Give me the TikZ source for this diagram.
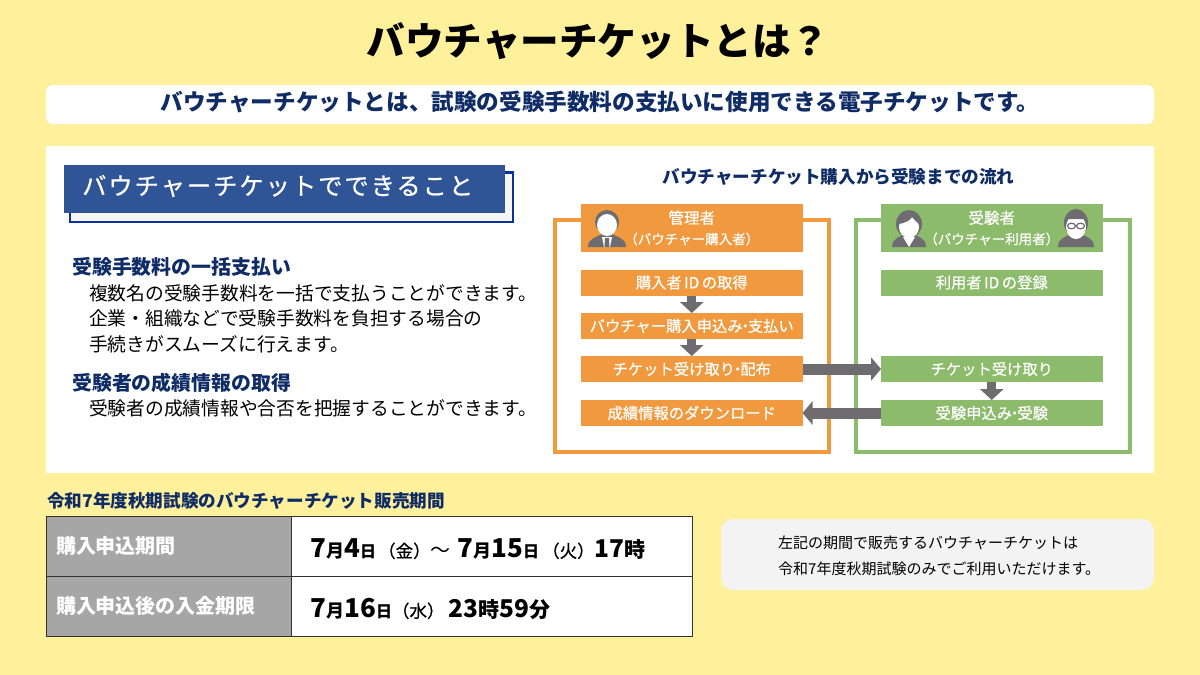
\documentclass[tikz,border=0pt]{standalone}
\usepackage{fontspec}
\setmainfont{Noto Sans CJK JP}
\newfontfamily\medfont[FakeBold=0.7]{Noto Sans CJK JP}
\usetikzlibrary{arrows.meta}

\definecolor{pagebg}{HTML}{FFF09B}
\definecolor{navytxt}{HTML}{0F2C66}
\definecolor{headblue}{HTML}{2F5597}
\definecolor{lineblue}{HTML}{0A319C}
\definecolor{adminor}{HTML}{F0993F}
\definecolor{usergr}{HTML}{8CBB6B}
\definecolor{arrowgr}{HTML}{6E6C70}
\definecolor{cellgr}{HTML}{A6A6A6}
\definecolor{notegr}{HTML}{F3F3F3}

\newcommand{\fsz}[1]{\fontsize{#1}{#1}\selectfont}
\newcommand{\dnum}[1]{{\fsz{26}\bfseries #1}}
\newcommand{\dsub}[1]{{\fsz{24.5}\bfseries #1}}
\newcommand{\dkan}[1]{{\fsz{21}\bfseries #1}}
\newcommand{\dmon}{{\fsz{18}\bfseries 月}}
\newcommand{\dday}{{\fsz{16}\bfseries 日}}
\newcommand{\dwk}[1]{{\fsz{17.5}\medfont （#1）}}
\newcommand{\tdot}{\kern-5pt・\kern-5pt}

\newcommand{\manicon}[1]{%
    \begin{scope}[shift={(#1)}]
        \fill[arrowgr] (-19,19) .. controls (-19,10) and (-10,9) .. (-5,6) -- (5,6) .. controls (10,9) and (19,10) .. (19,19) -- cycle;
        \fill[arrowgr] (0,-6) ellipse [x radius=12, y radius=12];
        \fill[white] (0,-3) ellipse [x radius=10, y radius=11];
        \fill[white] (-5,9) -- (5,9) -- (3,19) -- (-3,19) -- cycle;
        \fill[arrowgr] (-2,10) -- (2,10) -- (2.5,19) -- (-2.5,19) -- cycle;
    \end{scope}}
\newcommand{\womanicon}[1]{%
    \begin{scope}[shift={(#1)}]
        \fill[arrowgr] (-17,19) .. controls (-17,10) and (-9,9) .. (-5,6) -- (5,6) .. controls (9,9) and (17,10) .. (17,19) -- cycle;
        \fill[arrowgr] (0,-4) ellipse [x radius=13, y radius=14];
        \fill[white] (0,-1) ellipse [x radius=10, y radius=11];
        \fill[arrowgr] (-10,-4) .. controls (-4,-5) and (2,-8) .. (3,-11) .. controls (5,-8) and (8,-6) .. (10,-4) -- (10,-12) -- (-10,-12) -- cycle;
        \fill[white] (-6,9) -- (6,9) -- (0,19) -- cycle;
    \end{scope}}
\newcommand{\glassicon}[1]{%
    \begin{scope}[shift={(#1)}]
        \fill[arrowgr] (-18,19) .. controls (-18,10) and (-10,9) .. (-5,6) -- (5,6) .. controls (10,9) and (18,10) .. (18,19) -- cycle;
        \fill[arrowgr] (0,-5) ellipse [x radius=12, y radius=14];
        \fill[white] (0,-1) ellipse [x radius=10, y radius=12];
        \fill[arrowgr] (-10,-4) -- (-8,-9) -- (8,-9) -- (10,-4) -- (10,-13) -- (-10,-13) -- cycle;
        \draw[arrowgr, line width=1.2pt] (-4.5,-2) ellipse [x radius=4, y radius=2.8] (4.5,-2) ellipse [x radius=4, y radius=2.8];
    \end{scope}}

\tikzset{
    stepbox/.style={rectangle, inner sep=0pt, outer sep=0pt, minimum width=221.5pt, minimum height=26pt, text=white, font=\fsz{15.3}\medfont},
    adminstep/.style={stepbox, fill=adminor},
    userstep/.style={stepbox, fill=usergr},
    headbox/.style={stepbox, minimum height=48pt},
    bodytxt/.style={anchor=west, inner sep=0pt, font=\fsz{18.75}},
    subhead/.style={anchor=west, inner sep=0pt, text=navytxt, font=\fsz{19.9}\bfseries},
    blockarrow/.style={draw=arrowgr, line width=9pt, -{Triangle[length=11pt, width=23pt]}},
    sidearrow/.style={draw=arrowgr, line width=11pt, -{Triangle[length=10pt, width=23pt]}},
    tablecell/.style={rectangle, draw=black!80, line width=1pt, inner sep=0pt, outer sep=0pt, minimum height=60pt},
    labelcell/.style={tablecell, fill=cellgr, minimum width=245pt, text=white, font=\fsz{20}\bfseries, anchor=north west, text width=225pt, align=left},
    datecell/.style={tablecell, fill=white, minimum width=401pt, anchor=north west, text width=362pt, align=left}
}

\begin{document}
\begin{tikzpicture}[x=1pt, y=-1pt]

    \useasboundingbox (0,0) rectangle (1200,675);
    \fill[pagebg] (0,0) rectangle (1200,675);

    % Title
    \node[inner sep=0pt, font=\fsz{38.6}\bfseries] (title) at (598,41) {バウチャーチケットとは？};
    \node[fill=white, rounded corners=7pt, minimum width=1108pt, minimum height=39pt, inner sep=0pt] (banner) at (600,104.5) {};
    \node[inner sep=0pt, text=navytxt, font=\fsz{22.6}\bfseries] (bannertxt) at (600,102.5) {バウチャーチケットとは、試験の受験手数料の支払いに使用できる電子チケットです。};

    % White panel
    \fill[white] (46,146) rectangle (1154,473);

    % Left heading
    \fill[black!4] (70,172) rectangle (513,222);
    \draw[lineblue, line width=2.5pt] (505,172.5) -- (513,172.5) -- (513,222) -- (70,222) -- (70,213);
    \node[fill=headblue, minimum width=441pt, minimum height=48pt, inner sep=0pt] (canhead) at (284.5,189) {};
    \node[anchor=west, inner sep=0pt, text=white, font=\fsz{24.3}\medfont\addfontfeature{LetterSpace=8}] (cantxt) at (82,186) {バウチャーチケットでできること};

    % Left text
    \node[subhead] (pay) at (72,267) {受験手数料の一括支払い};
    \node[bodytxt] (pay1) at (89,293) {複数名の受験手数料を一括で支払うことができます。};
    \node[bodytxt] (pay2) at (89,318) {企業・組織などで受験手数料を負担する場合の};
    \node[bodytxt] (pay3) at (89,344) {手続きがスムーズに行えます。};
    \node[subhead] (score) at (72,383) {受験者の成績情報の取得};
    \node[bodytxt] (score1) at (89,408) {受験者の成績情報や合否を把握することができます。};

    % Flow
    \node[inner sep=0pt, text=navytxt, font=\fsz{17.6}\bfseries] (flowtitle) at (838.5,177) {バウチャーチケット購入から受験までの流れ};
    \draw[adminor, line width=4pt] (555,220) rectangle (829,452);
    \draw[usergr, line width=4pt] (856,220) rectangle (1130,452);

    % Administrator
    \node[headbox, fill=adminor, font=\fsz{15.5}\medfont, align=center] (admin) at (691.75,228) {管理者\\[5pt]{\fsz{13.5}（バウチャー購入者）}};
    \node[adminstep] (admin1) at (691.75,282.5) {購入者\,ID\,の取得};
    \node[adminstep] (admin2) at (691.75,326) {バウチャー購入申込み\tdot 支払い};
    \node[adminstep] (admin3) at (691.75,369) {チケット受け取り\tdot 配布};
    \node[adminstep] (admin4) at (691.75,413) {成績情報のダウンロード};
    \manicon{607,228}

    % Examinee
    \node[headbox, fill=usergr, font=\fsz{15.5}\medfont, align=center] (user) at (991.75,228) {受験者\\[5pt]{\fsz{13.5}（バウチャー利用者）}};
    \node[userstep] (user1) at (991.75,282.5) {利用者\,ID\,の登録};
    \node[userstep] (user3) at (991.75,369) {チケット受け取り};
    \node[userstep] (user4) at (991.75,413) {受験申込み\tdot 受験};
    \womanicon{909,228}
    \glassicon{1076,228}

    % Arrows
    \draw[blockarrow] (admin1) -- (admin2);
    \draw[blockarrow] (admin2) -- (admin3);
    \draw[blockarrow] (user3) -- (user4);
    \draw[sidearrow] (admin3) -- (user3);
    \draw[sidearrow] (user4) -- (admin4);

    % Sale period
    \node[anchor=west, inner sep=0pt, text=navytxt, font=\fsz{17.6}\bfseries] (saletitle) at (47,501) {令和7年度秋期試験のバウチャーチケット販売期間};
    \node[labelcell] (cella) at (46,516) {購入申込期間};
    \node[datecell] (cellb) at (291,516) {\raisebox{-11.5pt}[0pt][0pt]{\dnum{7}\dmon\dnum{4}\dday\kern2pt\dwk{金}{\fsz{20}〜}\kern7pt\dnum{7}\dmon\dnum{15}\dday\kern3pt\dwk{火}\dsub{17}\dkan{時}}};
    \node[labelcell] (cellc) at (46,576) {購入申込後の入金期限};
    \node[datecell] (celld) at (291,576) {\raisebox{-11.5pt}[0pt][0pt]{\dnum{7}\dmon\dnum{16}\dday\dwk{水}\kern4pt\dsub{23}\dkan{時}\dsub{59}\dkan{分}}};

    % Note
    \node[fill=notegr, rounded corners=12pt, minimum width=433pt, minimum height=71pt, inner sep=0pt] (note) at (937.5,554.5) {};
    \node[anchor=west, inner sep=0pt, font=\fsz{15}] (note1) at (778,543) {左記の期間で販売するバウチャーチケットは};
    \node[anchor=west, inner sep=0pt, font=\fsz{15}] (note2) at (778,569) {令和7年度秋期試験のみでご利用いただけます。};

\end{tikzpicture}
\end{document}
